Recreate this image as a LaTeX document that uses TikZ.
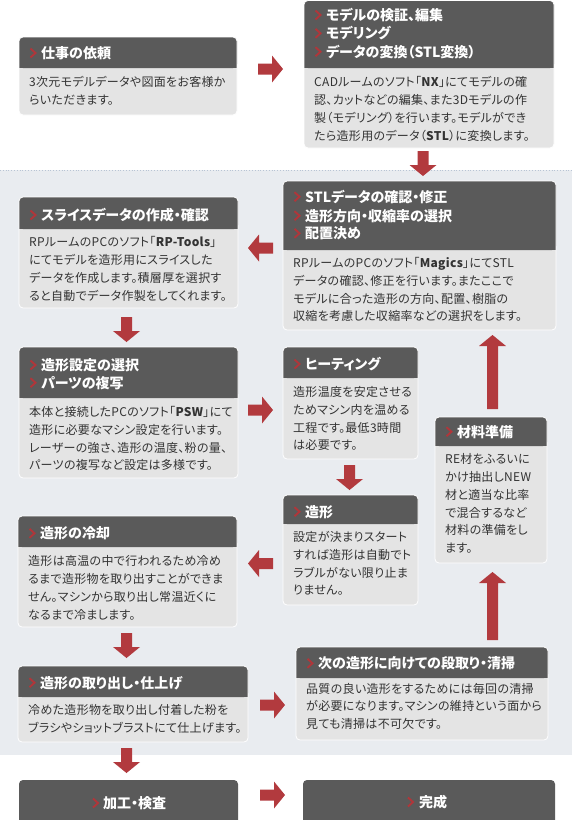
\documentclass[tikz,border=0pt]{standalone}
\usepackage{fontspec}
\setmainfont{Noto Sans CJK JP}[RawFeature=+palt, LetterSpace=2.5]
\newfontfamily\hdrfont{Noto Sans CJK JP}[RawFeature=+palt]
\definecolor{hdrc}{HTML}{5A5A5A}
\definecolor{bodyc}{HTML}{E4E4E4}
\definecolor{arrowc}{HTML}{B23A3E}
\definecolor{chevc}{HTML}{B0363A}
\definecolor{txtc}{HTML}{333333}
\definecolor{bgc}{HTML}{E9ECF0}
\definecolor{dotc}{HTML}{B8C4D4}
\tikzset{
  hdrtext/.style={text=white, font=\hdrfont\fontsize{14}{18}\selectfont\bfseries, inner sep=0pt, anchor=west, text height=12.3pt, text depth=1.7pt},
  bodytext/.style={text=txtc, font=\fontsize{12}{17.8}\selectfont, inner sep=0pt, anchor=north west, align=left},
}
\newcommand\card[6]{%
  \fill[bodyc, rounded corners=4pt] (#2,#3) rectangle (#4,#6);
  \fill[hdrc, rounded corners=4pt] (#2,#3) rectangle (#4,#5);
  \fill[hdrc] (#2,{#5-6}) rectangle (#4,#5);
  \draw[white, line width=0.8pt, rounded corners=4pt] (#2,#3) rectangle (#4,#6);
  \coordinate (#1) at ({(#2+#4)/2},{(#3+#6)/2});
}
\newcommand\chev[2]{\draw[chevc, line width=1.9pt] ({#1},{#2-4.5}) -- ({#1+5},{#2}) -- ({#1},{#2+4.5});}
\newcommand\hdr[4]{\chev{#2+11.5}{#3}\node[hdrtext] (#1) at ({#2+22},#3) {#4};}
\newcommand\bodytxt[4]{\node[bodytext] (#1) at ({#2+10},{#3-7.9}) {\strut #4};}
\newcommand\barrow[4]{\fill[arrowc, shift={(#1,#2)}, rotate=#3] (0,-5.5) -- ({#4-11},-5.5) -- ({#4-11},-13.5) -- (#4,0) -- ({#4-11},13.5) -- ({#4-11},5.5) -- (0,5.5) -- cycle;}
\begin{document}
\begin{tikzpicture}[x=1pt,y=-1pt]
\useasboundingbox (0,0) rectangle (572,820);
\fill[white] (0,0) rectangle (572,820);
\fill[bgc] (0,170) rectangle (572,755);
\draw[dotc, dotted, line width=0.8pt] (0,170) -- (572,170);

% 1 job
\card{job}{19}{37}{237}{68}{115}
\hdr{job-h}{19}{53}{仕事の依頼}
\bodytxt{job-b}{19}{82}{3次元モデルデータや図面をお客様か\\らいただきます。}

% 2 model
\card{model}{304}{0.5}{554}{68}{148}
\hdr{model-h1}{304}{15}{モデルの検証、編集}
\hdr{model-h2}{304}{33.3}{モデリング}
\hdr{model-h3}{304}{51.7}{データの変換（STL変換）}
\bodytxt{model-b}{304}{82}{CADルームのソフト「\textbf{NX}」にてモデルの確\\認、カットなどの編集、また3Dモデルの作\\製（モデリング）を行います。モデルができ\\たら造形用のデータ（\textbf{STL}）に変換します。}

% 3 stl
\card{stl}{283}{181}{556}{250}{330}
\hdr{stl-h1}{283}{196.7}{STLデータの確認・修正}
\hdr{stl-h2}{283}{215.7}{造形方向・収縮率の選択}
\hdr{stl-h3}{283}{233.3}{配置決め}
\bodytxt{stl-b}{283}{262.7}{RPルームのPCのソフト「\textbf{Magics}」にてSTL\\データの確認、修正を行います。またここで\\モデルに合った造形の方向、配置、樹脂の\\収縮を考慮した収縮率などの選択をします。}

% 4 slice
\card{slice}{19}{197}{238}{229}{308}
\hdr{slice-h}{19}{215}{スライスデータの作成・確認}
\bodytxt{slice-b}{19}{242}{RPルームのPCのソフト「\textbf{RP-Tools}」\\にてモデルを造形用にスライスした\\データを作成します。積層厚を選択す\\ると自動でデータ作製をしてくれます。}

% 5 settings
\card{set}{19}{347}{238}{398}{478}
\hdr{set-h1}{19}{365}{造形設定の選択}
\hdr{set-h2}{19}{382.7}{パーツの複写}
\bodytxt{set-b}{19}{411.7}{本体と接続したPCのソフト「\textbf{PSW}」にて\\造形に必要なマシン設定を行います。\\レーザーの強さ、造形の温度、粉の量、\\パーツの複写など設定は多様です。}

% 6 heating
\card{heat}{283}{347}{418}{378}{459}
\hdr{heat-h}{283}{364}{ヒーティング}
\bodytxt{heat-b}{283}{391.7}{造形温度を安定させる\\ためマシン内を温める\\工程です。最低3時間\\は必要です。}

% 7 material
\card{mat}{435}{417}{547}{446}{563}
\hdr{mat-h}{435}{431.7}{材料準備}
\bodytxt{mat-b}{435}{459}{RE材をふるいに\\かけ抽出しNEW\\材と適当な比率\\で混合するなど\\材料の準備をし\\ます。}

% 8 build
\card{build}{283}{495}{418}{524}{605}
\hdr{build-h}{283}{511.7}{造形}
\bodytxt{build-b}{283}{536.7}{設定が決まりスタート\\すれば造形は自動でト\\ラブルがない限り止ま\\りません。}

% 9 cooling
\card{cool}{18}{516}{237}{547}{627}
\hdr{cool-h}{18}{533.3}{造形の冷却}
\bodytxt{cool-b}{18}{561}{造形は高温の中で行われるため冷め\\るまで造形物を取り出すことができま\\せん。マシンから取り出し常温近くに\\なるまで冷まします。}

% 10 removal
\card{rem}{18}{666}{248}{697}{742}
\hdr{rem-h}{18}{682.7}{造形の取り出し・仕上げ}
\bodytxt{rem-b}{18}{710}{冷めた造形物を取り出し付着した粉を\\ブラシやショットブラストにて仕上げます。}

% 11 next
\card{next}{296}{647}{548}{678}{740}
\hdr{next-h}{296}{663.3}{次の造形に向けての段取り・清掃}
\bodytxt{next-b}{296}{688.3}{品質の良い造形をするためには毎回の清掃\\が必要になります。マシンの維持という面から\\見ても清掃は不可欠です。}

% 12 / 13 final boxes
\fill[hdrc, rounded corners=4pt] (19,780) rectangle (238,830);
\coordinate (kakou) at (128.5,800);
\chev{93}{803}
\node[hdrtext] (kakou-h) at (103,803) {加工・検査};
\fill[hdrc, rounded corners=4pt] (303,780) rectangle (555,830);
\coordinate (kansei) at (429,800);
\chev{408}{802}
\node[hdrtext] (kansei-h) at (419,802) {完成};

% arrows
\barrow{258}{69}{0}{25}
\barrow{423}{151}{-90}{25}
\barrow{273}{248}{180}{25}
\barrow{126.5}{317}{-90}{25}
\barrow{248}{410}{0}{25}
\barrow{349.5}{465}{-90}{25}
\barrow{273}{563.5}{180}{25}
\barrow{126.5}{633}{-90}{25}
\barrow{260}{705}{0}{25}
\barrow{126.5}{748}{-90}{25}
\barrow{260}{795}{0}{25}
\barrow{492.5}{640}{90}{68}
\barrow{492.5}{409}{90}{74}
\end{tikzpicture}
\end{document}
